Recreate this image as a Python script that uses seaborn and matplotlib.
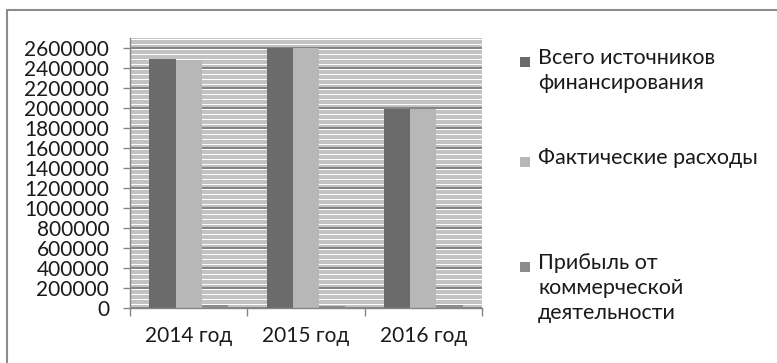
import numpy as np
import pandas as pd
import matplotlib
matplotlib.use("Agg")
import matplotlib.pyplot as plt
from matplotlib.lines import Line2D
from matplotlib.patches import Rectangle
from matplotlib.ticker import MultipleLocator, FixedLocator, FuncFormatter
import seaborn as sns

# Data
years = ["2014 год", "2015 год", "2016 год"]
series = ["Всего источников\nфинансирования",
          "Фактические расходы",
          "Прибыль от\nкоммерческой\nдеятельности"]
total_funding = [2490000, 2605000, 1995000]
actual_costs = [2480000, 2600000, 1990000]
commercial_profit = [28000, 20000, 27000]
colors = ["#6b6b6b", "#b7b7b7", "#8c8c8c"]

df = pd.DataFrame({
    "year": years * 3,
    "series": [series[0]] * 3 + [series[1]] * 3 + [series[2]] * 3,
    "value": total_funding + actual_costs + commercial_profit,
})

sns.set_style("white")
plt.rcParams["font.family"] = ["Lato", "DejaVu Sans"]

W, H = 777, 363
fig = plt.figure(figsize=(W / 100, H / 100), dpi=100)
ax = fig.add_axes([130 / W, 1 - 308 / H, (482 - 130) / W, (308 - 38) / H])

sns.barplot(data=df, x="year", y="value", hue="series", palette=colors,
            width=0.67, saturation=1, ax=ax, legend=False, edgecolor="none")

ax.set_ylim(0, 2700000)
ax.set_xlim(-0.5, 2.5)
ax.set_xlabel("")
ax.set_ylabel("")

# striped background: dense minor grid, darker major grid
ax.set_axisbelow(True)
ax.yaxis.set_major_locator(MultipleLocator(200000))
ax.yaxis.set_minor_locator(MultipleLocator(25000))
ax.grid(axis="y", which="minor", color="#c2c2c2", linewidth=1.2,
        antialiased=False)
ax.grid(axis="y", which="major", color="#858585", linewidth=1.4,
        antialiased=False)
ax.grid(axis="x", visible=False)

ax.yaxis.set_major_formatter(FuncFormatter(lambda v, p: f"{int(v)}"))
ax.tick_params(axis="y", which="major", left=True, length=5, width=1.0,
               color="#858585", pad=10, labelsize=15, labelcolor="#1a1a1a")
ax.tick_params(axis="y", which="minor", left=False)

ax.xaxis.set_minor_locator(FixedLocator([-0.5, 0.5, 1.5, 2.5]))
ax.tick_params(axis="x", which="major", bottom=False, length=0, pad=13,
               labelsize=15, labelcolor="#1a1a1a")
ax.tick_params(axis="x", which="minor", bottom=True, length=6, width=1.0,
               color="#858585")

for side in ["top", "right"]:
    ax.spines[side].set_visible(False)
for side in ["left", "bottom"]:
    ax.spines[side].set_color("#858585")
    ax.spines[side].set_linewidth(1.0)

# Legend on the right
legend_entries = [
    (62, series[0], colors[0]),
    (162, series[1], colors[1]),
    (267, series[2], colors[2]),
]
for ypix, label, col in legend_entries:
    fig.add_artist(Rectangle((520 / W, 1 - (ypix + 5) / H), 10 / W, 10 / H,
                             transform=fig.transFigure, facecolor=col,
                             edgecolor="none"))
    fig.text(538 / W, 1 - (ypix - 14) / H, label, ha="left", va="top",
             fontsize=15.5, color="#1a1a1a", linespacing=1.3)

# Outer chart frame
fig.add_artist(Line2D([7 / W, 7 / W], [0, 1 - 10 / H], transform=fig.transFigure,
                      color="#8c8c8c", linewidth=1.5))
fig.add_artist(Line2D([7 / W, 1], [1 - 10 / H, 1 - 10 / H], transform=fig.transFigure,
                      color="#8c8c8c", linewidth=1.5))

fig.savefig("out.png", dpi=100, facecolor="white")
